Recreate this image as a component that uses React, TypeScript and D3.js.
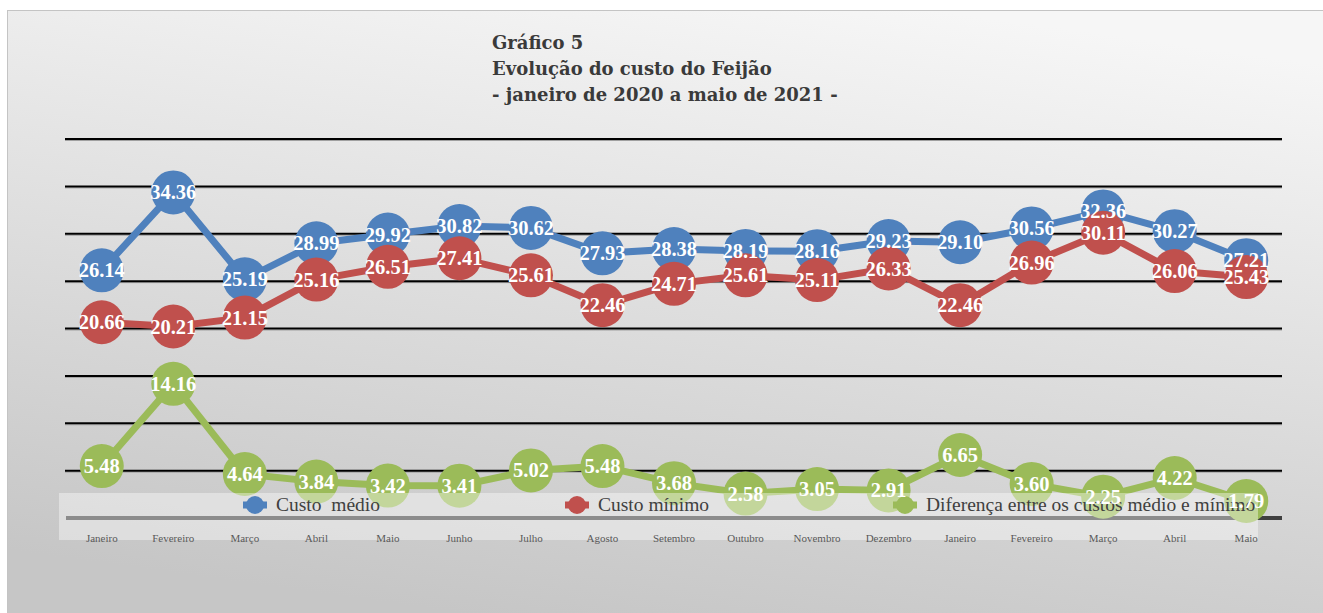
import { type RefObject, useEffect, useRef } from "react";
import * as d3 from "d3";

const months = [
  "Janeiro", "Fevereiro", "Março", "Abril", "Maio", "Junho", "Julho", "Agosto",
  "Setembro", "Outubro", "Novembro", "Dezembro", "Janeiro", "Fevereiro", "Março",
  "Abril", "Maio",
];

const custoMedio = [
  26.14, 34.36, 25.19, 28.99, 29.92, 30.82, 30.62, 27.93, 28.38, 28.19, 28.16,
  29.23, 29.1, 30.56, 32.36, 30.27, 27.21,
];
const custoMinimo = [
  20.66, 20.21, 21.15, 25.16, 26.51, 27.41, 25.61, 22.46, 24.71, 25.61, 25.11,
  26.33, 22.46, 26.96, 30.11, 26.06, 25.43,
];
const diferenca = [
  5.48, 14.16, 4.64, 3.84, 3.42, 3.41, 5.02, 5.48, 3.68, 2.58, 3.05, 2.91, 6.65,
  3.6, 2.25, 4.22, 1.79,
];

const seriesNames = [
  "Custo  médio",
  "Custo mínimo",
  "Diferença entre os custos médio e mínimo",
];
const seriesColors = ["#4F81BD", "#C0504D", "#9BBB59"];
const yTicks = [0, 5, 10, 15, 20, 25, 30, 35, 40];

const titleLines = [
  "Gráfico 5",
  "Evolução do custo do Feijão",
  "- janeiro de 2020 a maio de 2021 -",
];

const W = 1323;
const H = 613;
const left = 66;
const right = 1282;
const top = 139;
const bottom = 518;
const serif = "'Liberation Serif', 'DejaVu Serif', serif";

const drawChart = (svgRef: RefObject<SVGSVGElement>) => {
  const svg = d3.select(svgRef.current).attr("width", W).attr("height", H);
  const allSeries = [custoMedio, custoMinimo, diferenca];

  const x = d3
    .scaleBand<number>()
    .domain(d3.range(months.length))
    .range([left, right]);
  const cx = (i: number) => (x(i) ?? 0) + x.bandwidth() / 2;
  const y = d3.scaleLinear().domain([0, 40]).range([bottom, top]);

  const defs = svg.append("defs");
  const grad = defs
    .append("linearGradient")
    .attr("id", "bg")
    .attr("x1", 0.7)
    .attr("y1", 0)
    .attr("x2", 0.4)
    .attr("y2", 1);
  grad.append("stop").attr("offset", 0).attr("stop-color", "#f6f6f6");
  grad.append("stop").attr("offset", 1).attr("stop-color", "#c6c6c6");

  svg
    .append("rect")
    .attr("x", 7.5)
    .attr("y", 10.5)
    .attr("width", W)
    .attr("height", H)
    .attr("fill", "url(#bg)")
    .attr("stroke", "#c4c4c4");

  // title
  svg
    .append("g")
    .selectAll("text")
    .data(titleLines)
    .enter()
    .append("text")
    .attr("x", 492)
    .attr("y", (_, i) => 49 + i * 26)
    .attr("font-family", "'DejaVu Serif', serif")
    .attr("font-weight", "bold")
    .attr("font-size", 18)
    .attr("fill", "#3a3a3a")
    .text((d) => d);

  // gridlines
  const grid = svg.append("g");
  yTicks
    .filter((t) => t > 0)
    .forEach((t) => {
      grid
        .append("line")
        .attr("x1", left - 1)
        .attr("x2", right)
        .attr("y1", y(t) + 1.5)
        .attr("y2", y(t) + 1.5)
        .attr("stroke", "#a0a0a0")
        .attr("stroke-width", 1);
      grid
        .append("line")
        .attr("x1", left - 1)
        .attr("x2", right)
        .attr("y1", y(t))
        .attr("y2", y(t))
        .attr("stroke", "#000")
        .attr("stroke-width", 2);
    });

  grid
    .append("line")
    .attr("x1", left)
    .attr("x2", right)
    .attr("y1", y(0))
    .attr("y2", y(0))
    .attr("stroke", "#404040")
    .attr("stroke-width", 4);

  // series
  allSeries.forEach((vals, s) => {
    const g = svg.append("g");
    g.append("path")
      .datum(vals)
      .attr("fill", "none")
      .attr("stroke", seriesColors[s])
      .attr("stroke-width", 7)
      .attr("stroke-linejoin", "round")
      .attr(
        "d",
        d3
          .line<number>()
          .x((_, i) => cx(i))
          .y((d) => y(d))
      );
    g.selectAll("circle")
      .data(vals)
      .enter()
      .append("circle")
      .attr("cx", (_, i) => cx(i))
      .attr("cy", (d) => y(d))
      .attr("r", 22)
      .attr("fill", seriesColors[s]);
  });

  // legend box (semi transparent, over the markers)
  svg
    .append("rect")
    .attr("x", 59)
    .attr("y", 493)
    .attr("width", 1199)
    .attr("height", 47)
    .attr("fill", "#fff")
    .attr("fill-opacity", 0.4);

  const legendX = [255, 577, 905];
  const legend = svg.append("g");
  seriesNames.forEach((name, s) => {
    legend
      .append("line")
      .attr("x1", legendX[s] - 12)
      .attr("x2", legendX[s] + 12)
      .attr("y1", 505)
      .attr("y2", 505)
      .attr("stroke", seriesColors[s])
      .attr("stroke-width", 7);
    legend
      .append("circle")
      .attr("cx", legendX[s])
      .attr("cy", 505)
      .attr("r", 9)
      .attr("fill", seriesColors[s]);
    legend
      .append("text")
      .attr("x", legendX[s] + 21)
      .attr("y", 511)
      .attr("font-family", serif)
      .attr("font-size", 19.5)
      .attr("fill", "#404040")
      .style("white-space", "pre")
      .text(name);
  });

  // category labels
  svg
    .append("g")
    .selectAll("text")
    .data(months)
    .enter()
    .append("text")
    .attr("x", (_, i) => cx(i))
    .attr("y", 542)
    .attr("text-anchor", "middle")
    .attr("font-family", serif)
    .attr("font-size", 11)
    .attr("fill", "#595959")
    .text((d) => d);

  // data labels
  allSeries.forEach((vals) => {
    svg
      .append("g")
      .selectAll("text")
      .data(vals)
      .enter()
      .append("text")
      .attr("x", (_, i) => cx(i))
      .attr("y", (d) => y(d) + 7)
      .attr("text-anchor", "middle")
      .attr("font-family", serif)
      .attr("font-weight", "bold")
      .attr("font-size", 20.5)
      .attr("fill", "#fff")
      .text((d) => d.toFixed(2));
  });
};

const clearChart = (svgRef: RefObject<SVGSVGElement>) => {
  d3.select(svgRef.current).selectAll("*").remove();
};

const App = () => {
  const svgRef = useRef<SVGSVGElement>(null);

  useEffect(() => {
    drawChart(svgRef);
    return () => {
      clearChart(svgRef);
    };
  }, [svgRef]);

  return (
    <div>
      <svg
        ref={svgRef}
        style={{ position: "absolute", left: 0, top: 0, display: "block" }}
      ></svg>
    </div>
  );
};

export default App;
